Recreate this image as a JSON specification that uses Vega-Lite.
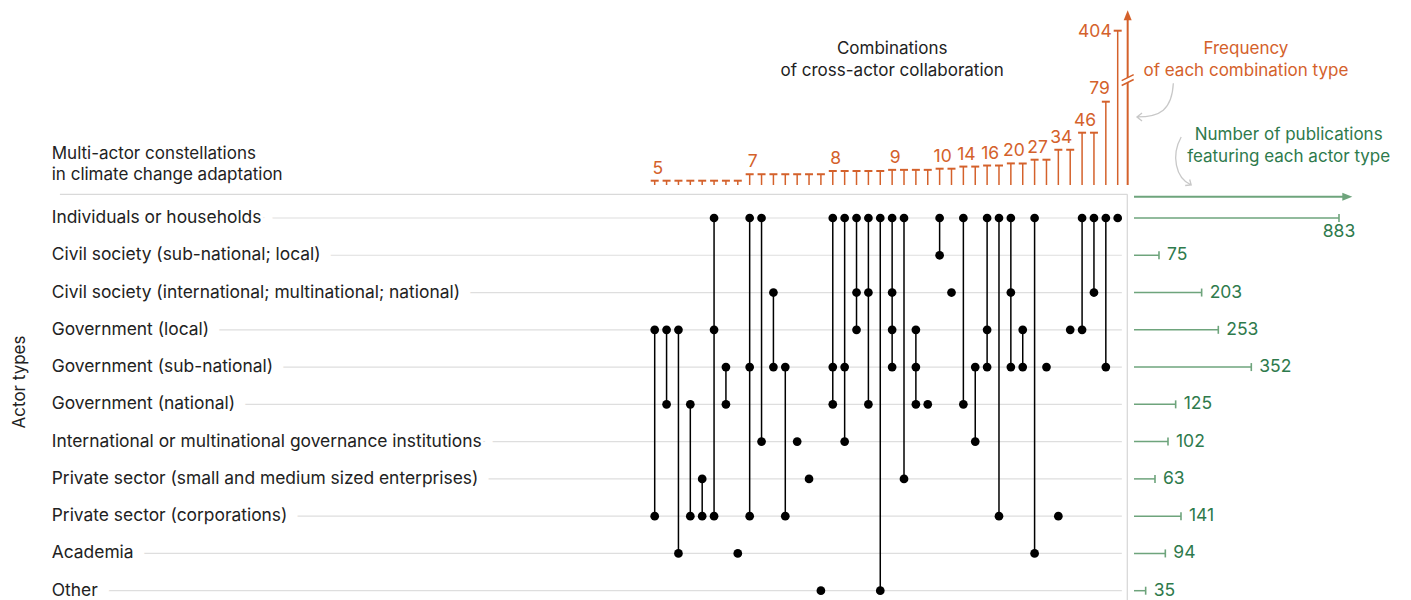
{
  "$schema": "https://vega.github.io/schema/vega-lite/v6.json",
  "width": 1411,
  "height": 600,
  "autosize": {"type": "fit", "contains": "padding"},
  "padding": 0,
  "background": "white",
  "config": {"view": {"stroke": null}, "font": "Inter", "axis": {"disable": true}, "legend": {"disable": true}},
  "datasets": {
    "actors": [
      {"code": "IND", "actor": "Individuals or households", "order": 0, "publications": 883},
      {"code": "CSL", "actor": "Civil society (sub-national; local)", "order": 1, "publications": 75},
      {"code": "CSI", "actor": "Civil society (international; multinational; national)", "order": 2, "publications": 203},
      {"code": "GL", "actor": "Government (local)", "order": 3, "publications": 253},
      {"code": "GS", "actor": "Government (sub-national)", "order": 4, "publications": 352},
      {"code": "GN", "actor": "Government (national)", "order": 5, "publications": 125},
      {"code": "IMG", "actor": "International or multinational governance institutions", "order": 6, "publications": 102},
      {"code": "PSME", "actor": "Private sector (small and medium sized enterprises)", "order": 7, "publications": 63},
      {"code": "PC", "actor": "Private sector (corporations)", "order": 8, "publications": 141},
      {"code": "AC", "actor": "Academia", "order": 9, "publications": 94},
      {"code": "OTH", "actor": "Other", "order": 10, "publications": 35}
    ],
    "combos": [
      {"combo": 0, "freq": 5}, {"combo": 1, "freq": 5}, {"combo": 2, "freq": 5}, {"combo": 3, "freq": 5},
      {"combo": 4, "freq": 5}, {"combo": 5, "freq": 5}, {"combo": 6, "freq": 5}, {"combo": 7, "freq": 5},
      {"combo": 8, "freq": 7}, {"combo": 9, "freq": 7}, {"combo": 10, "freq": 7}, {"combo": 11, "freq": 7},
      {"combo": 12, "freq": 7}, {"combo": 13, "freq": 7}, {"combo": 14, "freq": 7},
      {"combo": 15, "freq": 8}, {"combo": 16, "freq": 8}, {"combo": 17, "freq": 8}, {"combo": 18, "freq": 8}, {"combo": 19, "freq": 8},
      {"combo": 20, "freq": 9}, {"combo": 21, "freq": 9}, {"combo": 22, "freq": 9}, {"combo": 23, "freq": 9},
      {"combo": 24, "freq": 10}, {"combo": 25, "freq": 10},
      {"combo": 26, "freq": 14}, {"combo": 27, "freq": 14},
      {"combo": 28, "freq": 16}, {"combo": 29, "freq": 16},
      {"combo": 30, "freq": 20}, {"combo": 31, "freq": 20},
      {"combo": 32, "freq": 27}, {"combo": 33, "freq": 27},
      {"combo": 34, "freq": 34}, {"combo": 35, "freq": 34},
      {"combo": 36, "freq": 46}, {"combo": 37, "freq": 46},
      {"combo": 38, "freq": 79}, {"combo": 39, "freq": 404}
    ],
    "members": [
      {"combo": 0, "code": "GL"}, {"combo": 0, "code": "PC"},
      {"combo": 1, "code": "GL"}, {"combo": 1, "code": "GN"},
      {"combo": 2, "code": "GL"}, {"combo": 2, "code": "AC"},
      {"combo": 3, "code": "GN"}, {"combo": 3, "code": "PC"},
      {"combo": 4, "code": "PSME"}, {"combo": 4, "code": "PC"},
      {"combo": 5, "code": "IND"}, {"combo": 5, "code": "GL"}, {"combo": 5, "code": "PC"},
      {"combo": 6, "code": "GS"}, {"combo": 6, "code": "GN"},
      {"combo": 7, "code": "AC"},
      {"combo": 8, "code": "IND"}, {"combo": 8, "code": "GS"}, {"combo": 8, "code": "PC"},
      {"combo": 9, "code": "IND"}, {"combo": 9, "code": "IMG"},
      {"combo": 10, "code": "CSI"}, {"combo": 10, "code": "GS"},
      {"combo": 11, "code": "GS"}, {"combo": 11, "code": "PC"},
      {"combo": 12, "code": "IMG"},
      {"combo": 13, "code": "PSME"},
      {"combo": 14, "code": "OTH"},
      {"combo": 15, "code": "IND"}, {"combo": 15, "code": "GS"}, {"combo": 15, "code": "GN"},
      {"combo": 16, "code": "IND"}, {"combo": 16, "code": "GS"}, {"combo": 16, "code": "IMG"},
      {"combo": 17, "code": "IND"}, {"combo": 17, "code": "CSI"}, {"combo": 17, "code": "GL"},
      {"combo": 18, "code": "IND"}, {"combo": 18, "code": "CSI"}, {"combo": 18, "code": "GN"},
      {"combo": 19, "code": "IND"}, {"combo": 19, "code": "OTH"},
      {"combo": 20, "code": "IND"}, {"combo": 20, "code": "CSI"}, {"combo": 20, "code": "GL"}, {"combo": 20, "code": "GS"},
      {"combo": 21, "code": "IND"}, {"combo": 21, "code": "PSME"},
      {"combo": 22, "code": "GL"}, {"combo": 22, "code": "GS"}, {"combo": 22, "code": "GN"},
      {"combo": 23, "code": "GN"},
      {"combo": 24, "code": "IND"}, {"combo": 24, "code": "CSL"},
      {"combo": 25, "code": "CSI"},
      {"combo": 26, "code": "IND"}, {"combo": 26, "code": "GN"},
      {"combo": 27, "code": "GS"}, {"combo": 27, "code": "IMG"},
      {"combo": 28, "code": "IND"}, {"combo": 28, "code": "GL"}, {"combo": 28, "code": "GS"},
      {"combo": 29, "code": "IND"}, {"combo": 29, "code": "PC"},
      {"combo": 30, "code": "IND"}, {"combo": 30, "code": "CSI"}, {"combo": 30, "code": "GS"},
      {"combo": 31, "code": "GL"}, {"combo": 31, "code": "GS"},
      {"combo": 32, "code": "IND"}, {"combo": 32, "code": "AC"},
      {"combo": 33, "code": "GS"},
      {"combo": 34, "code": "PC"},
      {"combo": 35, "code": "GL"},
      {"combo": 36, "code": "IND"}, {"combo": 36, "code": "GL"},
      {"combo": 37, "code": "IND"}, {"combo": 37, "code": "CSI"},
      {"combo": 38, "code": "IND"}, {"combo": 38, "code": "GS"},
      {"combo": 39, "code": "IND"}
    ]
  },
  "resolve": {"scale": {"x": "independent", "y": "independent"}},
  "layer": [
    {
      "layer": [
        {
          "data": {"values": [{}]},
          "mark": {"type": "rule", "color": "#d9d9d9", "strokeWidth": 1.3},
          "encoding": {
            "x": {"datum": -50.1, "type": "quantitative", "scale": {"type": "linear", "domain": [0, 39], "range": [654.7, 1117.7], "zero": false, "nice": false}},
            "x2": {"datum": 39.81},
            "y": {"datum": -0.636, "type": "quantitative", "scale": {"type": "linear", "domain": [0, 10], "range": [218, 590.7], "zero": false, "nice": false}}
          }
        },
        {
          "data": {"values": [{}]},
          "mark": {"type": "rule", "color": "#d9d9d9", "strokeWidth": 1.3},
          "encoding": {
            "x": {"datum": 39.81, "type": "quantitative", "scale": {"type": "linear", "domain": [0, 39], "range": [654.7, 1117.7], "zero": false, "nice": false}},
            "y": {"datum": -0.636, "type": "quantitative", "scale": {"type": "linear", "domain": [0, 10], "range": [218, 590.7], "zero": false, "nice": false}},
            "y2": {"datum": 10.4}
          }
        },
        {
          "data": {"name": "actors"},
          "mark": {"type": "rule", "color": "#dedede", "strokeWidth": 1.2},
          "encoding": {
            "x": {"datum": -50.5, "type": "quantitative", "scale": {"type": "linear", "domain": [0, 39], "range": [654.7, 1117.7], "zero": false, "nice": false}},
            "x2": {"datum": 39.35},
            "y": {"field": "order", "type": "quantitative", "scale": {"type": "linear", "domain": [0, 10], "range": [218, 590.7], "zero": false, "nice": false}}
          }
        },
        {
          "data": {"name": "actors"},
          "mark": {"type": "text", "align": "left", "baseline": "middle", "fontSize": 17.4, "fill": "white", "stroke": "white", "strokeWidth": 24, "strokeJoin": "round"},
          "encoding": {
            "x": {"datum": -50.79, "type": "quantitative", "scale": {"type": "linear", "domain": [0, 39], "range": [654.7, 1117.7], "zero": false, "nice": false}},
            "y": {"field": "order", "type": "quantitative", "scale": {"type": "linear", "domain": [0, 10], "range": [218, 590.7], "zero": false, "nice": false}},
            "text": {"field": "actor", "type": "nominal"}
          }
        },
        {
          "data": {"name": "actors"},
          "mark": {"type": "text", "align": "left", "baseline": "middle", "fontSize": 17.4, "fill": "#222222"},
          "encoding": {
            "x": {"datum": -50.79, "type": "quantitative", "scale": {"type": "linear", "domain": [0, 39], "range": [654.7, 1117.7], "zero": false, "nice": false}},
            "y": {"field": "order", "type": "quantitative", "scale": {"type": "linear", "domain": [0, 10], "range": [218, 590.7], "zero": false, "nice": false}},
            "text": {"field": "actor", "type": "nominal"}
          }
        },
        {
          "data": {"name": "members"},
          "transform": [{"lookup": "code", "from": {"data": {"name": "actors"}, "key": "code", "fields": ["order"]}}],
          "mark": {"type": "rule", "color": "#000000", "strokeWidth": 1.5},
          "encoding": {
            "x": {"field": "combo", "type": "quantitative", "scale": {"type": "linear", "domain": [0, 39], "range": [654.7, 1117.7], "zero": false, "nice": false}},
            "y": {"aggregate": "min", "field": "order", "type": "quantitative", "scale": {"type": "linear", "domain": [0, 10], "range": [218, 590.7], "zero": false, "nice": false}},
            "y2": {"aggregate": "max", "field": "order"}
          }
        },
        {
          "data": {"name": "members"},
          "transform": [{"lookup": "code", "from": {"data": {"name": "actors"}, "key": "code", "fields": ["order"]}}],
          "mark": {"type": "point", "filled": true, "color": "#000000", "size": 76, "opacity": 1},
          "encoding": {
            "x": {"field": "combo", "type": "quantitative", "scale": {"type": "linear", "domain": [0, 39], "range": [654.7, 1117.7], "zero": false, "nice": false}},
            "y": {"field": "order", "type": "quantitative", "scale": {"type": "linear", "domain": [0, 10], "range": [218, 590.7], "zero": false, "nice": false}}
          }
        },
        {
          "data": {"values": [{}]},
          "mark": {"type": "text", "align": "left", "baseline": "alphabetic", "fontSize": 17, "fill": "#222222", "lineHeight": 21, "text": ["Multi-actor constellations", "in climate change adaptation"]},
          "encoding": {
            "x": {"datum": -50.79, "type": "quantitative", "scale": {"type": "linear", "domain": [0, 39], "range": [654.7, 1117.7], "zero": false, "nice": false}},
            "y": {"datum": -1.575, "type": "quantitative", "scale": {"type": "linear", "domain": [0, 10], "range": [218, 590.7], "zero": false, "nice": false}}
          }
        },
        {
          "data": {"values": [{}]},
          "mark": {"type": "text", "align": "center", "baseline": "alphabetic", "fontSize": 17, "fill": "#222222", "lineHeight": 22, "text": ["Combinations", "of cross-actor collaboration"]},
          "encoding": {
            "x": {"datum": 20, "type": "quantitative", "scale": {"type": "linear", "domain": [0, 39], "range": [654.7, 1117.7], "zero": false, "nice": false}},
            "y": {"datum": -4.39, "type": "quantitative", "scale": {"type": "linear", "domain": [0, 10], "range": [218, 590.7], "zero": false, "nice": false}}
          }
        },
        {
          "data": {"values": [{}]},
          "mark": {"type": "text", "align": "center", "baseline": "alphabetic", "fontSize": 17, "fill": "#d4612b", "lineHeight": 22, "text": ["Frequency", "of each combination type"]},
          "encoding": {
            "x": {"datum": 49.8, "type": "quantitative", "scale": {"type": "linear", "domain": [0, 39], "range": [654.7, 1117.7], "zero": false, "nice": false}},
            "y": {"datum": -4.39, "type": "quantitative", "scale": {"type": "linear", "domain": [0, 10], "range": [218, 590.7], "zero": false, "nice": false}}
          }
        },
        {
          "data": {"values": [{}]},
          "mark": {"type": "text", "align": "center", "baseline": "alphabetic", "fontSize": 17, "fill": "#2e7a4c", "lineHeight": 22, "text": ["Number of publications", "featuring each actor type"]},
          "encoding": {
            "x": {"datum": 53.4, "type": "quantitative", "scale": {"type": "linear", "domain": [0, 39], "range": [654.7, 1117.7], "zero": false, "nice": false}},
            "y": {"datum": -2.085, "type": "quantitative", "scale": {"type": "linear", "domain": [0, 10], "range": [218, 590.7], "zero": false, "nice": false}}
          }
        },
        {
          "data": {"values": [{}]},
          "mark": {"type": "text", "align": "center", "baseline": "middle", "fontSize": 17, "fill": "#222222", "angle": 270, "text": "Actor types"},
          "encoding": {
            "x": {"datum": -53.46, "type": "quantitative", "scale": {"type": "linear", "domain": [0, 39], "range": [654.7, 1117.7], "zero": false, "nice": false}},
            "y": {"datum": 4.4, "type": "quantitative", "scale": {"type": "linear", "domain": [0, 10], "range": [218, 590.7], "zero": false, "nice": false}}
          }
        },
        {
          "data": {"values": [{}]},
          "mark": {"type": "point", "filled": false, "stroke": "#c8c8c8", "strokeWidth": 1.3, "opacity": 1, "size": 1296, "shape": "M1.02,-0.93C0.94,0.56 0.28,0.94 -1,0.94M-0.72,0.72L-1,0.94L-0.72,1.17"},
          "encoding": {
            "x": {"datum": 42.14, "type": "quantitative", "scale": {"type": "linear", "domain": [0, 39], "range": [654.7, 1117.7], "zero": false, "nice": false}},
            "y": {"datum": -3.166, "type": "quantitative", "scale": {"type": "linear", "domain": [0, 10], "range": [218, 590.7], "zero": false, "nice": false}}
          }
        },
        {
          "data": {"values": [{}]},
          "mark": {"type": "point", "filled": false, "stroke": "#c8c8c8", "strokeWidth": 1.3, "opacity": 1, "size": 2500, "shape": "M-0.12,-0.96C-0.52,-0.24 -0.36,0.68 0.28,0.96M0.04,0.98L0.28,0.96L0.22,0.74"},
          "encoding": {
            "x": {"datum": 44.6, "type": "quantitative", "scale": {"type": "linear", "domain": [0, 39], "range": [654.7, 1117.7], "zero": false, "nice": false}},
            "y": {"datum": -1.529, "type": "quantitative", "scale": {"type": "linear", "domain": [0, 10], "range": [218, 590.7], "zero": false, "nice": false}}
          }
        }
      ]
    },
    {
      "layer": [
        {
          "data": {"name": "combos"},
          "mark": {"type": "rule", "color": "#d4612b", "strokeWidth": 1.5},
          "encoding": {
            "x": {"field": "combo", "type": "quantitative", "scale": {"type": "linear", "domain": [0, 39], "range": [654.7, 1117.7], "zero": false, "nice": false}},
            "y": {"field": "freq", "type": "quantitative", "scale": {"type": "linear", "domain": [0, 5, 8, 10, 27, 46, 79, 404, 440], "range": [185, 180.7, 171, 168.7, 159.7, 132.7, 101.7, 30.7, 10], "zero": false, "nice": false}},
            "y2": {"datum": 0}
          }
        },
        {
          "data": {"name": "combos"},
          "mark": {"type": "tick", "orient": "horizontal", "color": "#d4612b", "size": 8, "thickness": 2, "opacity": 1},
          "encoding": {
            "x": {"field": "combo", "type": "quantitative", "scale": {"type": "linear", "domain": [0, 39], "range": [654.7, 1117.7], "zero": false, "nice": false}},
            "y": {"field": "freq", "type": "quantitative", "scale": {"type": "linear", "domain": [0, 5, 8, 10, 27, 46, 79, 404, 440], "range": [185, 180.7, 171, 168.7, 159.7, 132.7, 101.7, 30.7, 10], "zero": false, "nice": false}}
          }
        },
        {
          "data": {"name": "combos"},
          "transform": [{"filter": "datum.freq < 70"}],
          "mark": {"type": "text", "align": "center", "baseline": "alphabetic", "fontSize": 17.5, "fill": "#d4612b", "dx": 3, "dy": -7},
          "encoding": {
            "x": {"aggregate": "min", "field": "combo", "type": "quantitative", "scale": {"type": "linear", "domain": [0, 39], "range": [654.7, 1117.7], "zero": false, "nice": false}},
            "y": {"field": "freq", "type": "quantitative", "scale": {"type": "linear", "domain": [0, 5, 8, 10, 27, 46, 79, 404, 440], "range": [185, 180.7, 171, 168.7, 159.7, 132.7, 101.7, 30.7, 10], "zero": false, "nice": false}},
            "text": {"field": "freq", "type": "quantitative"}
          }
        },
        {
          "data": {"name": "combos"},
          "transform": [{"filter": "datum.freq >= 70 && datum.freq < 400"}],
          "mark": {"type": "text", "align": "right", "baseline": "alphabetic", "fontSize": 17.5, "fill": "#d4612b", "dx": 4, "dy": -8},
          "encoding": {
            "x": {"field": "combo", "type": "quantitative", "scale": {"type": "linear", "domain": [0, 39], "range": [654.7, 1117.7], "zero": false, "nice": false}},
            "y": {"field": "freq", "type": "quantitative", "scale": {"type": "linear", "domain": [0, 5, 8, 10, 27, 46, 79, 404, 440], "range": [185, 180.7, 171, 168.7, 159.7, 132.7, 101.7, 30.7, 10], "zero": false, "nice": false}},
            "text": {"field": "freq", "type": "quantitative"}
          }
        },
        {
          "data": {"name": "combos"},
          "transform": [{"filter": "datum.freq >= 400"}],
          "mark": {"type": "text", "align": "right", "baseline": "alphabetic", "fontSize": 17.5, "fill": "#d4612b", "dx": -6, "dy": 6},
          "encoding": {
            "x": {"field": "combo", "type": "quantitative", "scale": {"type": "linear", "domain": [0, 39], "range": [654.7, 1117.7], "zero": false, "nice": false}},
            "y": {"field": "freq", "type": "quantitative", "scale": {"type": "linear", "domain": [0, 5, 8, 10, 27, 46, 79, 404, 440], "range": [185, 180.7, 171, 168.7, 159.7, 132.7, 101.7, 30.7, 10], "zero": false, "nice": false}},
            "text": {"field": "freq", "type": "quantitative"}
          }
        },
        {
          "data": {"values": [{}]},
          "mark": {"type": "rule", "color": "#d4612b", "strokeWidth": 2},
          "encoding": {
            "x": {"datum": 39.84, "type": "quantitative", "scale": {"type": "linear", "domain": [0, 39], "range": [654.7, 1117.7], "zero": false, "nice": false}},
            "y": {"datum": 0, "type": "quantitative", "scale": {"type": "linear", "domain": [0, 5, 8, 10, 27, 46, 79, 404, 440], "range": [185, 180.7, 171, 168.7, 159.7, 132.7, 101.7, 30.7, 10], "zero": false, "nice": false}},
            "y2": {"datum": 428}
          }
        },
        {
          "data": {"values": [{}]},
          "mark": {"type": "point", "filled": true, "color": "#d4612b", "opacity": 1, "size": 100, "shape": "M0,-1L0.8,1L-0.8,1Z"},
          "encoding": {
            "x": {"datum": 39.84, "type": "quantitative", "scale": {"type": "linear", "domain": [0, 39], "range": [654.7, 1117.7], "zero": false, "nice": false}},
            "y": {"datum": 431, "type": "quantitative", "scale": {"type": "linear", "domain": [0, 5, 8, 10, 27, 46, 79, 404, 440], "range": [185, 180.7, 171, 168.7, 159.7, 132.7, 101.7, 30.7, 10], "zero": false, "nice": false}}
          }
        },
        {
          "data": {"values": [{}]},
          "mark": {"type": "point", "filled": true, "color": "white", "opacity": 1, "size": 144, "shape": "M-1,0.1L1,-0.9L1,-0.1L-1,0.9Z"},
          "encoding": {
            "x": {"datum": 39.84, "type": "quantitative", "scale": {"type": "linear", "domain": [0, 39], "range": [654.7, 1117.7], "zero": false, "nice": false}},
            "y": {"datum": 178, "type": "quantitative", "scale": {"type": "linear", "domain": [0, 5, 8, 10, 27, 46, 79, 404, 440], "range": [185, 180.7, 171, 168.7, 159.7, 132.7, 101.7, 30.7, 10], "zero": false, "nice": false}}
          }
        },
        {
          "data": {"values": [{}]},
          "mark": {"type": "point", "filled": false, "stroke": "#d4612b", "strokeWidth": 1.5, "opacity": 1, "size": 144, "shape": "M-1,0.1L1,-0.9M-1,0.9L1,-0.1"},
          "encoding": {
            "x": {"datum": 39.84, "type": "quantitative", "scale": {"type": "linear", "domain": [0, 39], "range": [654.7, 1117.7], "zero": false, "nice": false}},
            "y": {"datum": 178, "type": "quantitative", "scale": {"type": "linear", "domain": [0, 5, 8, 10, 27, 46, 79, 404, 440], "range": [185, 180.7, 171, 168.7, 159.7, 132.7, 101.7, 30.7, 10], "zero": false, "nice": false}}
          }
        }
      ]
    },
    {
      "layer": [
        {
          "data": {"values": [{}]},
          "mark": {"type": "rule", "color": "#6ea47c", "strokeWidth": 2},
          "encoding": {
            "x": {"datum": 0, "type": "quantitative", "scale": {"type": "linear", "domain": [0, 400, 883, 960], "range": [1134, 1267.3, 1339, 1352.3], "zero": false, "nice": false}},
            "x2": {"datum": 930},
            "y": {"datum": -0.5715, "type": "quantitative", "scale": {"type": "linear", "domain": [0, 10], "range": [218, 590.7], "zero": false, "nice": false}}
          }
        },
        {
          "data": {"values": [{}]},
          "mark": {"type": "point", "filled": true, "color": "#6ea47c", "opacity": 1, "size": 100, "shape": "M1,0L-1,-0.8L-1,0.8Z"},
          "encoding": {
            "x": {"datum": 931, "type": "quantitative", "scale": {"type": "linear", "domain": [0, 400, 883, 960], "range": [1134, 1267.3, 1339, 1352.3], "zero": false, "nice": false}},
            "y": {"datum": -0.5715, "type": "quantitative", "scale": {"type": "linear", "domain": [0, 10], "range": [218, 590.7], "zero": false, "nice": false}}
          }
        },
        {
          "data": {"name": "actors"},
          "mark": {"type": "rule", "color": "#6ea47c", "strokeWidth": 1.5},
          "encoding": {
            "x": {"field": "publications", "type": "quantitative", "scale": {"type": "linear", "domain": [0, 400, 883, 960], "range": [1134, 1267.3, 1339, 1352.3], "zero": false, "nice": false}},
            "x2": {"datum": 0},
            "y": {"field": "order", "type": "quantitative", "scale": {"type": "linear", "domain": [0, 10], "range": [218, 590.7], "zero": false, "nice": false}}
          }
        },
        {
          "data": {"name": "actors"},
          "mark": {"type": "tick", "orient": "vertical", "color": "#6ea47c", "size": 8, "thickness": 1.6, "opacity": 1},
          "encoding": {
            "x": {"field": "publications", "type": "quantitative", "scale": {"type": "linear", "domain": [0, 400, 883, 960], "range": [1134, 1267.3, 1339, 1352.3], "zero": false, "nice": false}},
            "y": {"field": "order", "type": "quantitative", "scale": {"type": "linear", "domain": [0, 10], "range": [218, 590.7], "zero": false, "nice": false}}
          }
        },
        {
          "data": {"name": "actors"},
          "transform": [{"filter": "datum.publications < 800"}],
          "mark": {"type": "text", "align": "left", "baseline": "middle", "fontSize": 17.5, "fill": "#2e7a4c", "dx": 8},
          "encoding": {
            "x": {"field": "publications", "type": "quantitative", "scale": {"type": "linear", "domain": [0, 400, 883, 960], "range": [1134, 1267.3, 1339, 1352.3], "zero": false, "nice": false}},
            "y": {"field": "order", "type": "quantitative", "scale": {"type": "linear", "domain": [0, 10], "range": [218, 590.7], "zero": false, "nice": false}},
            "text": {"field": "publications", "type": "quantitative"}
          }
        },
        {
          "data": {"name": "actors"},
          "transform": [{"filter": "datum.publications >= 800"}],
          "mark": {"type": "text", "align": "center", "baseline": "top", "fontSize": 17.5, "fill": "#2e7a4c", "dy": 5},
          "encoding": {
            "x": {"field": "publications", "type": "quantitative", "scale": {"type": "linear", "domain": [0, 400, 883, 960], "range": [1134, 1267.3, 1339, 1352.3], "zero": false, "nice": false}},
            "y": {"field": "order", "type": "quantitative", "scale": {"type": "linear", "domain": [0, 10], "range": [218, 590.7], "zero": false, "nice": false}},
            "text": {"field": "publications", "type": "quantitative"}
          }
        }
      ]
    }
  ]
}
